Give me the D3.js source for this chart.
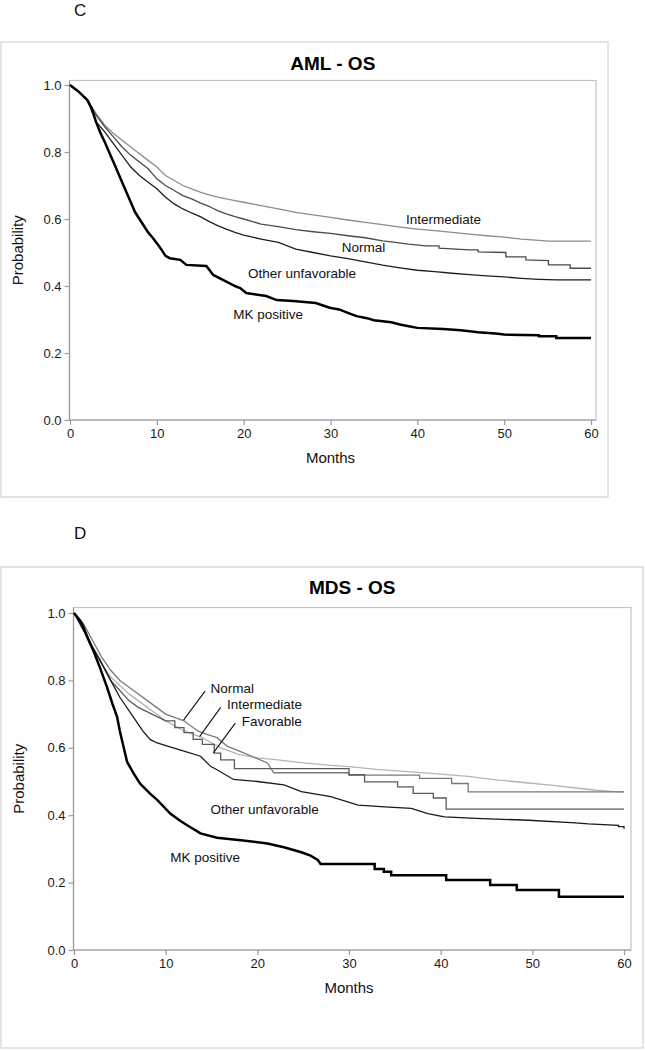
<!DOCTYPE html>
<html>
<head>
<meta charset="utf-8">
<script src="https://cdn.jsdelivr.net/npm/d3@7"></script>
<style>
  body { margin: 0; background: #fff; }
  svg { display: block; font-family: "Liberation Sans", Arial, sans-serif; }
</style>
</head>
<body>
<svg width="645" height="1050"></svg>
<script>
// ---- data: [months, survival probability]; repeated months mark a visible step ----
var monthTicks = [0, 10, 20, 30, 40, 50, 60];
var probTicks = [0, 0.2, 0.4, 0.6, 0.8, 1.0];

var amlIntermediate = [[0,1],[1,0.98],[2,0.955],[3,0.915],[4,0.88],[5,0.855],[6,0.835],[7,0.815],[8,0.795],[9,0.775],[10,0.755],[11,0.73],[12,0.715],[13,0.7],[14,0.69],[15,0.68],[16,0.672],[17,0.665],[18,0.66],[19,0.655],[20,0.65],[22,0.64],[24,0.63],[26,0.62],[28,0.612],[30,0.605],[32,0.597],[34,0.59],[36,0.583],[38,0.576],[40,0.57],[42,0.565],[44,0.56],[46,0.555],[48,0.55],[50,0.546],[52,0.54],[54,0.536],[55,0.534],[60,0.534]];
var amlNormal = [[0,1],[1,0.98],[2,0.955],[3,0.91],[4,0.875],[5,0.845],[6,0.815],[7,0.79],[8,0.77],[9,0.75],[10,0.72],[11,0.7],[12,0.685],[13,0.67],[14,0.66],[15,0.648],[16,0.638],[17,0.625],[18,0.615],[19,0.607],[20,0.6],[22,0.585],[24,0.577],[26,0.568],[28,0.562],[30,0.557],[32,0.55],[34,0.544],[36,0.535],[37,0.532],[39,0.525],[41,0.52],[42.5,0.52],[42.5,0.513],[46,0.508],[47,0.508],[47,0.502],[50.2,0.5],[50.2,0.487],[52.5,0.487],[52.5,0.478],[55.1,0.476],[55.1,0.463],[57.6,0.463],[57.6,0.453],[60,0.453]];
var amlOtherUnfav = [[0,1],[1,0.98],[2,0.955],[3,0.89],[4,0.86],[5,0.825],[6,0.79],[7,0.755],[8,0.73],[9,0.71],[10,0.69],[11,0.665],[12,0.645],[13,0.63],[14,0.618],[15,0.607],[16,0.593],[17,0.58],[18,0.57],[19,0.56],[20,0.552],[22,0.54],[24,0.53],[26,0.51],[28,0.5],[30,0.49],[32,0.482],[34,0.472],[36,0.462],[38,0.454],[40,0.447],[42,0.443],[44,0.438],[46,0.434],[48,0.43],[50,0.427],[52,0.423],[54,0.42],[56,0.418],[60,0.418]];
var amlMK = [[0,1],[1,0.98],[2,0.955],[2.5,0.93],[3,0.89],[3.5,0.857],[4,0.83],[4.5,0.8],[5,0.77],[5.5,0.74],[6,0.71],[6.5,0.68],[7,0.65],[7.5,0.62],[8,0.6],[8.5,0.58],[9,0.56],[9.5,0.545],[10,0.528],[10.5,0.51],[11,0.49],[11.5,0.483],[12.7,0.478],[13.4,0.463],[15.7,0.46],[16.5,0.433],[18,0.413],[19,0.4],[19.6,0.394],[20.3,0.379],[22.6,0.37],[23.8,0.358],[25.7,0.355],[28.3,0.349],[29.9,0.335],[31,0.33],[32,0.32],[33,0.31],[34.2,0.304],[35,0.298],[37,0.292],[38,0.285],[39,0.28],[40,0.275],[43,0.272],[45,0.268],[47,0.262],[49,0.258],[50,0.255],[54,0.253],[54,0.25],[56,0.25],[56,0.245],[60,0.245]];

var mdsNormal = [[0,1],[1,0.97],[2,0.92],[3,0.87],[4,0.83],[5,0.8],[6.5,0.77],[8,0.74],[9,0.72],[10,0.7],[12,0.68],[13.5,0.65],[14.5,0.64],[15.6,0.63],[16.7,0.605],[18.5,0.585],[21.1,0.555],[21.8,0.526],[30,0.526],[30,0.519],[37.7,0.519],[37.7,0.509],[41.2,0.509],[41.2,0.494],[43,0.494],[43,0.469],[60,0.469]];
var mdsIntermediate = [[0,1],[1,0.96],[2,0.9],[3,0.85],[4,0.81],[5,0.785],[6,0.76],[7,0.74],[8,0.72],[9,0.7],[10,0.68],[11,0.665],[12,0.65],[13,0.64],[14,0.63],[15,0.615],[16,0.6],[17,0.59],[18,0.58],[20,0.57],[22,0.565],[25,0.555],[28,0.548],[30,0.544],[33,0.536],[36,0.53],[40,0.522],[43,0.515],[46,0.505],[49,0.497],[52,0.489],[55,0.48],[57,0.474],[59,0.47],[60,0.469]];
var mdsFavorable = [[0,1],[1,0.96],[2,0.9],[3,0.85],[4,0.8],[5,0.77],[6,0.74],[7,0.72],[8.5,0.7],[10,0.68],[11,0.68],[11,0.66],[12,0.66],[12,0.645],[13,0.645],[13,0.625],[14,0.625],[14,0.61],[15.3,0.61],[15.3,0.584],[16,0.584],[16,0.564],[17.5,0.564],[17.5,0.538],[30,0.538],[30,0.52],[31.7,0.52],[31.7,0.499],[35.3,0.499],[35.3,0.484],[37,0.484],[37,0.465],[39.2,0.465],[39.2,0.451],[40.6,0.451],[40.6,0.418],[60,0.418]];
var mdsOtherUnfav = [[0,1],[1,0.95],[2,0.9],[2.85,0.86],[4,0.8],[5,0.75],[6.5,0.69],[7.5,0.65],[8.3,0.625],[9,0.615],[10.2,0.605],[12,0.59],[13.8,0.575],[14.9,0.545],[15.6,0.535],[17.4,0.506],[20,0.5],[22.9,0.49],[24.8,0.47],[28,0.455],[31,0.43],[33.9,0.425],[36.8,0.42],[38.6,0.405],[40.4,0.395],[44.5,0.39],[49.6,0.385],[54.7,0.377],[56.1,0.374],[59.4,0.37],[59.4,0.366],[60,0.366],[60,0.36]];
var mdsMK = [[0,1],[0.65,0.978],[1,0.96],[1.5,0.925],[2.1,0.889],[2.8,0.84],[3.6,0.78],[4.2,0.73],[4.7,0.692],[5,0.65],[5.4,0.603],[5.8,0.558],[6.5,0.524],[7.2,0.494],[8.3,0.464],[9.1,0.445],[10.5,0.405],[11.5,0.385],[12.3,0.371],[13.8,0.346],[15.6,0.333],[18.2,0.326],[21.1,0.316],[22.9,0.305],[24.8,0.29],[25.8,0.28],[26.6,0.267],[26.9,0.255],[32.8,0.255],[32.8,0.24],[33.8,0.24],[33.8,0.232],[34.6,0.232],[34.6,0.222],[40.6,0.222],[40.6,0.208],[45.4,0.208],[45.4,0.193],[48.3,0.193],[48.3,0.178],[52.9,0.178],[52.9,0.158],[60,0.158]];

var svg = d3.select('svg');

function drawPanel(p) {
  var g = svg.append('g');

  // outer box + panel letter
  g.append('rect').attr('x', p.box[0]).attr('y', p.box[1])
    .attr('width', p.box[2]).attr('height', p.box[3])
    .attr('fill', 'none').attr('stroke', '#dcdcdc').attr('stroke-width', 1.5);
  g.append('text').attr('x', p.letter[1]).attr('y', p.letter[2])
    .attr('font-size', 17).attr('fill', '#111').text(p.letter[0]);

  var x = d3.scaleLinear().domain([0, 60]).range(p.xr);
  var y = d3.scaleLinear().domain([0, 1]).range(p.yr);

  // plot frame
  g.append('rect').attr('x', p.frame[0]).attr('y', p.frame[1])
    .attr('width', p.frame[2] - p.frame[0]).attr('height', p.yr[0] - p.frame[1])
    .attr('fill', 'none').attr('stroke', '#c4c4c4').attr('stroke-width', 1.2);

  g.append('text').attr('x', (p.frame[0] + p.frame[2]) / 2).attr('y', p.titleY)
    .attr('text-anchor', 'middle').attr('font-size', 19).attr('font-weight', 'bold')
    .attr('fill', '#000').text(p.title);

  var xAxis = d3.axisBottom(x).tickValues(monthTicks).tickSize(5).tickPadding(4).tickSizeOuter(0);
  var yAxis = d3.axisLeft(y).tickValues(probTicks).tickSize(5).tickPadding(3)
    .tickSizeOuter(0).tickFormat(d3.format('.1f'));

  var ax = g.append('g').attr('transform', 'translate(0,' + p.yr[0] + ')').call(xAxis);
  var ay = g.append('g').attr('transform', 'translate(' + p.frame[0] + ',0)').call(yAxis);
  ax.select('.domain').attr('d', 'M' + p.frame[0] + ',0H' + p.frame[2]);
  ay.select('.domain').attr('d', 'M0,' + p.frame[1] + 'V' + p.yr[0]);
  [ax, ay].forEach(function(a) {
    a.selectAll('.domain, .tick line').attr('stroke', '#9a9a9a').attr('stroke-width', 1.2);
    a.selectAll('.tick text').attr('font-size', 13).attr('fill', '#1a1a1a')
      .attr('font-family', '"Liberation Sans", Arial, sans-serif');
  });

  g.append('text').attr('x', x(30)).attr('y', p.yr[0] + 43)
    .attr('text-anchor', 'middle').attr('font-size', 15).attr('fill', '#111').text('Months');
  g.append('text')
    .attr('transform', 'translate(' + p.ylabX + ',' + ((p.frame[1] + p.yr[0]) / 2) + ') rotate(-90)')
    .attr('text-anchor', 'middle').attr('font-size', 15).attr('fill', '#111').text('Probability');

  var line = d3.line().x(function(d){ return x(d[0]); }).y(function(d){ return y(d[1]); });

  p.series.forEach(function(s) {
    g.append('path').datum(s.data).attr('d', line)
      .attr('fill', 'none').attr('stroke', s.color).attr('stroke-width', s.w)
      .attr('stroke-linejoin', 'miter');
  });

  p.labels.forEach(function(l) {
    g.append('text').attr('x', x(l.at[0])).attr('y', y(l.at[1])).attr('dy', '0.35em')
      .attr('font-size', 13.5).attr('fill', '#111').text(l.text);
    if (l.lead) {
      g.append('line').attr('x1', x(l.lead[0])).attr('y1', y(l.lead[1]))
        .attr('x2', x(l.lead[2])).attr('y2', y(l.lead[3]))
        .attr('stroke', '#111').attr('stroke-width', 1.1);
    }
  });
}

drawPanel({
  box: [1, 42, 607, 455], letter: ['C', 74, 16],
  frame: [69.5, 80.5, 596], xr: [70, 591], yr: [420, 85],
  title: 'AML - OS', titleY: 70, ylabX: 23,
  series: [
    { data: amlIntermediate, color: '#8c8c8c', w: 1.3 },
    { data: amlNormal, color: '#4a4a4a', w: 1.3 },
    { data: amlOtherUnfav, color: '#1e1e1e', w: 1.3 },
    { data: amlMK, color: '#000', w: 2.5 }
  ],
  labels: [
    { text: 'Intermediate', at: [38.7, 0.6] },
    { text: 'Normal', at: [31.3, 0.517] },
    { text: 'Other unfavorable', at: [20.5, 0.439] },
    { text: 'MK positive', at: [18.8, 0.316] }
  ]
});

drawPanel({
  box: [1, 567, 642, 481], letter: ['D', 74, 539],
  frame: [73.5, 607.5, 631], xr: [74, 624], yr: [950, 613],
  title: 'MDS - OS', titleY: 594, ylabX: 24,
  series: [
    { data: mdsIntermediate, color: '#b4b4b4', w: 1.3 },
    { data: mdsNormal, color: '#7a7a7a', w: 1.3 },
    { data: mdsFavorable, color: '#5a5a5a', w: 1.3 },
    { data: mdsOtherUnfav, color: '#1a1a1a', w: 1.3 },
    { data: mdsMK, color: '#000', w: 2.5 }
  ],
  labels: [
    { text: 'Normal', at: [14.9, 0.777], lead: [14.3, 0.768, 11.95, 0.682] },
    { text: 'Intermediate', at: [16.7, 0.73], lead: [16.0, 0.72, 13.7, 0.633] },
    { text: 'Favorable', at: [18.3, 0.68], lead: [17.6, 0.673, 15.2, 0.585] },
    { text: 'Other unfavorable', at: [14.9, 0.418] },
    { text: 'MK positive', at: [10.5, 0.276] }
  ]
});
</script>
</body>
</html>
